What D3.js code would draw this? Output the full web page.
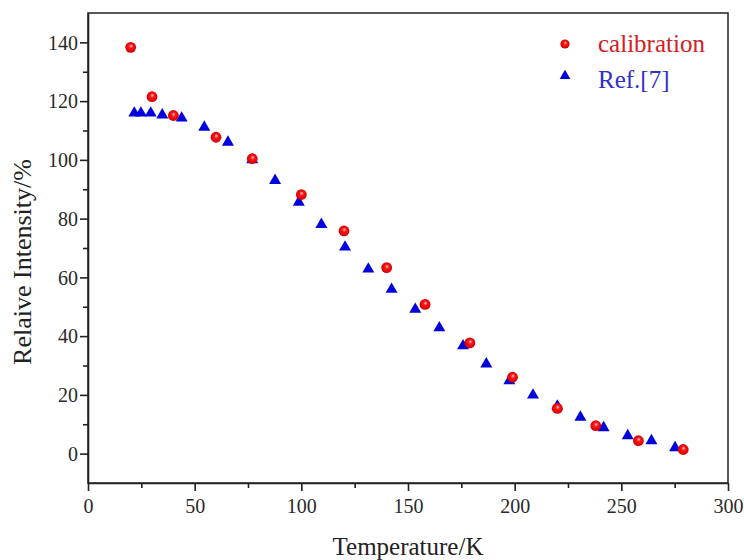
<!DOCTYPE html>
<html>
<head>
<meta charset="utf-8">
<script src="https://cdn.jsdelivr.net/npm/d3@7"></script>
<style>
  html, body { margin: 0; padding: 0; background: #fff; }
  svg { display: block; }
  svg text { font-family: "Liberation Serif", "Times New Roman", Times, "DejaVu Serif", serif !important; }
</style>
</head>
<body>
<div id="chart"></div>
<script>
// ---- data ----
const calibT = [20, 30, 40, 60, 77, 100, 120, 140, 158, 179, 199, 220, 238, 258, 279];
const calibI = [138.3, 121.5, 115.1, 107.7, 100.4, 88.2, 75.8, 63.3, 50.8, 37.7, 26.0, 15.4, 9.5, 4.4, 1.4];

const refT = [21.7, 24.8, 29.4, 34.8, 43.9, 54.5, 65.6, 77.0, 87.7, 98.8, 109.4, 120.5, 131.4, 142.3, 153.4, 164.7, 175.8, 186.7, 197.5, 208.6, 220.0, 230.8, 241.7, 253.0, 264.1, 275.2];
const refI = [115.9, 115.9, 115.9, 115.3, 114.2, 111.1, 106.0, 100.0, 93.0, 85.6, 78.0, 70.3, 62.8, 55.9, 49.1, 42.8, 36.7, 30.5, 24.8, 19.9, 16.2, 12.4, 8.8, 6.1, 4.4, 2.0];

const xTicks = [0, 50, 100, 150, 200, 250, 300];
const yTicks = [0, 20, 40, 60, 80, 100, 120, 140];
const xMinor = [25, 75, 125, 175, 225, 275];
const yMinor = [10, 30, 50, 70, 90, 110, 130];
const legendLabels = ["calibration", "Ref.[7]"];
const xTitle = "Temperature/K";
const yTitle = "Relaive Intensity/%";

// ---- layout ----
const W = 744, H = 560;
const m = { left: 88, right: 16, top: 13, bottom: 77 };
const pw = W - m.left - m.right, ph = H - m.top - m.bottom;
const FONT = "'Liberation Serif', 'Times New Roman', Times, 'DejaVu Serif', serif";

const svg = d3.select("#chart").append("svg").attr("width", W).attr("height", H);

const defs = svg.append("defs");
const grad = defs.append("radialGradient").attr("id", "sphere")
  .attr("cx", "50%").attr("cy", "50%").attr("r", "55%")
  .attr("fx", "55%").attr("fy", "35%");
grad.append("stop").attr("offset", "0%").attr("stop-color", "#ffc8c8");
grad.append("stop").attr("offset", "35%").attr("stop-color", "#f81818");
grad.append("stop").attr("offset", "85%").attr("stop-color", "#dc0000");
grad.append("stop").attr("offset", "100%").attr("stop-color", "#aa0000");

const x = d3.scaleLinear().domain([0, 300]).range([m.left, m.left + pw]);
const y = d3.scaleLinear().domain([-10, 150]).range([m.top + ph, m.top]);

const axisColor = "#222";

// frame (top & right)
svg.append("rect").attr("x", m.left).attr("y", m.top).attr("width", pw).attr("height", ph)
  .attr("fill", "none").attr("stroke", axisColor).attr("stroke-width", 1.5);

// x axis
const gx = svg.append("g").attr("transform", `translate(0,${m.top + ph})`)
  .call(d3.axisBottom(x).tickValues(xTicks).tickSize(8).tickSizeOuter(0).tickFormat(d3.format("d")));
svg.append("g").attr("transform", `translate(0,${m.top + ph})`)
  .call(d3.axisBottom(x).tickValues(xMinor).tickSize(5).tickSizeOuter(0).tickFormat(""))
  .call(g => g.select(".domain").remove());

// y axis
const gy = svg.append("g").attr("transform", `translate(${m.left},0)`)
  .call(d3.axisLeft(y).tickValues(yTicks).tickSize(8).tickSizeOuter(0).tickFormat(d3.format("d")));
svg.append("g").attr("transform", `translate(${m.left},0)`)
  .call(d3.axisLeft(y).tickValues(yMinor).tickSize(5).tickSizeOuter(0).tickFormat(""))
  .call(g => g.select(".domain").remove());

svg.selectAll("g").attr("font-family", FONT);
svg.selectAll(".domain").attr("stroke", axisColor).attr("stroke-width", 1.6);
svg.selectAll(".tick line").attr("stroke", axisColor).attr("stroke-width", 1.6);
gx.selectAll(".tick text").attr("font-size", 20).attr("fill", "#2a2a2a").attr("dy", "1.0em").attr("y", 10);
gy.selectAll(".tick text").attr("font-size", 20).attr("fill", "#2a2a2a").attr("x", -10).attr("dy", "0.34em");

// axis titles
svg.append("text").attr("x", m.left + pw / 2).attr("y", 555).attr("font-family", FONT)
  .attr("text-anchor", "middle").attr("font-size", 25).attr("fill", "#222").text(xTitle);
svg.append("text").attr("transform", `translate(31,${262}) rotate(-90)`).attr("font-family", FONT)
  .attr("text-anchor", "middle").attr("font-size", 26).attr("fill", "#222").text(yTitle);

// data
const calib = calibT.map((t, i) => ({ t, v: calibI[i] }));
const ref = refT.map((t, i) => ({ t, v: refI[i] }));

const tri = d3.symbol().type(d3.symbolTriangle).size(62);

svg.append("g").selectAll("path").data(ref).join("path")
  .attr("d", tri)
  .attr("transform", d => `translate(${x(d.t)},${y(d.v)})`)
  .attr("fill", "#0000dc");

svg.append("g").selectAll("circle").data(calib).join("circle")
  .attr("cx", d => x(d.t)).attr("cy", d => y(d.v)).attr("r", 5.4)
  .attr("fill", "url(#sphere)");

// legend
const lg = svg.append("g");
lg.append("circle").attr("cx", 565).attr("cy", 44).attr("r", 4.6).attr("fill", "url(#sphere)");
lg.append("path").attr("d", d3.symbol().type(d3.symbolTriangle).size(50))
  .attr("transform", "translate(565,76)").attr("fill", "#0000dc");
lg.append("text").attr("x", 598).attr("y", 52).attr("font-family", FONT).attr("font-size", 25).attr("fill", "#d42020").text(legendLabels[0]);
lg.append("text").attr("x", 598).attr("y", 88).attr("font-family", FONT).attr("font-size", 25).attr("fill", "#3030c8").text(legendLabels[1]);
</script>
</body>
</html>
